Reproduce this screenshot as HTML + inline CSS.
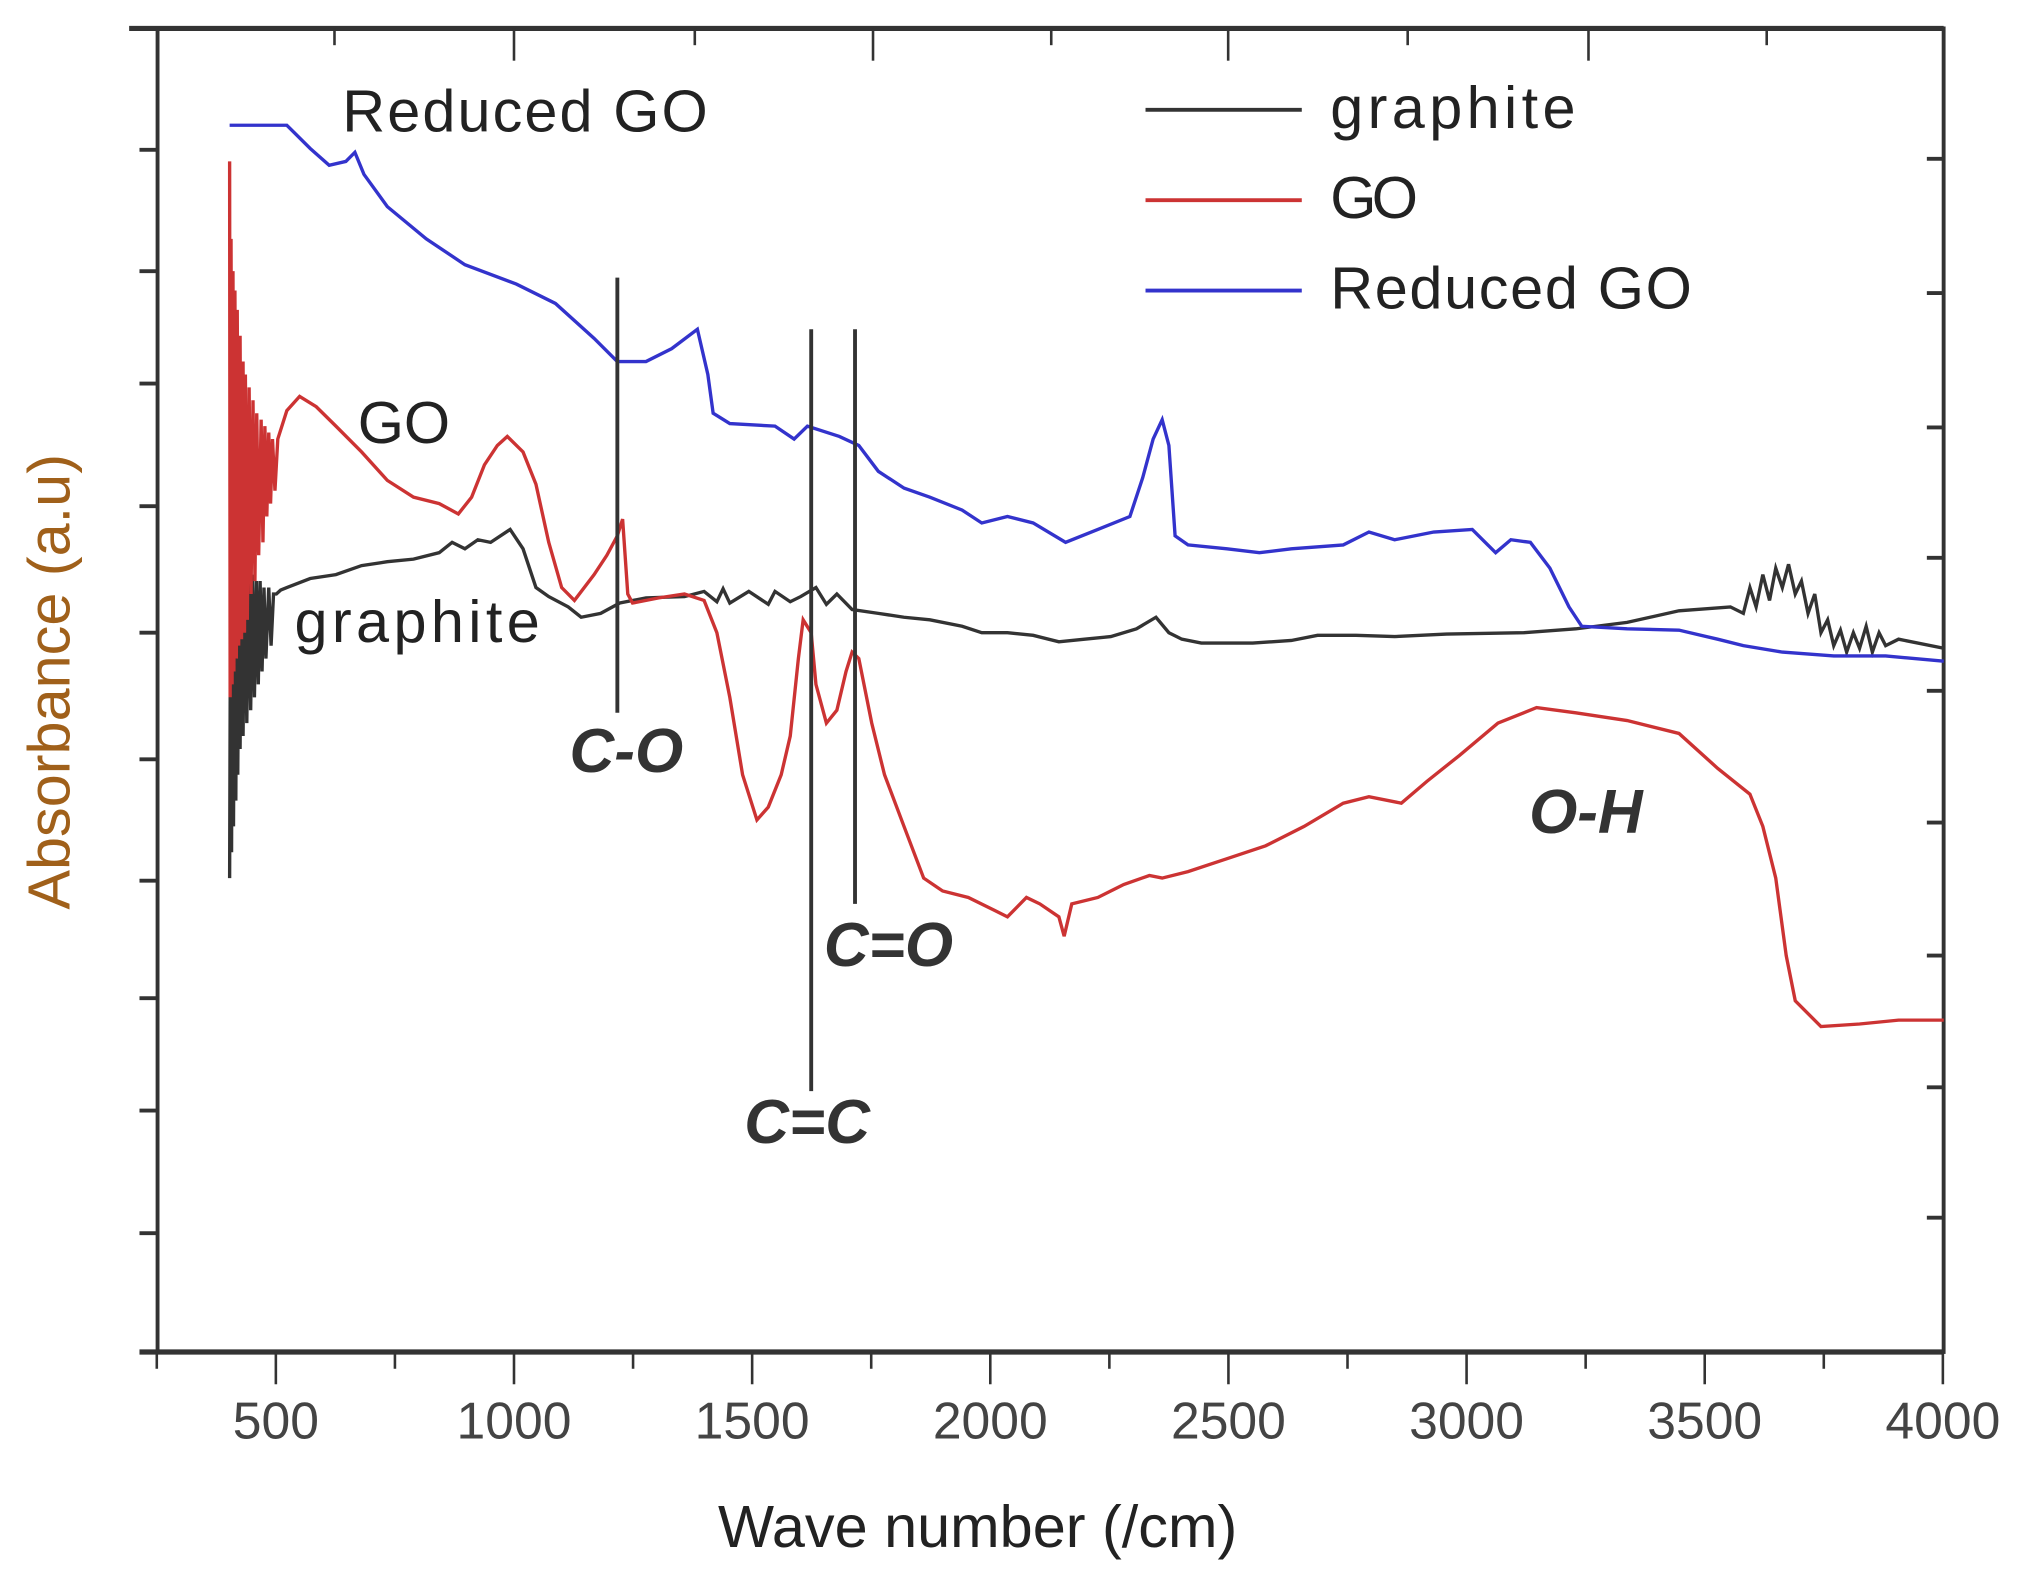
<!DOCTYPE html>
<html><head><meta charset="utf-8"><style>
html,body{margin:0;padding:0;background:#fff;}
svg{display:block;}
</style></head><body>
<svg id="chart" width="2025" height="1587" viewBox="0 0 1568 1229" preserveAspectRatio="none" xmlns="http://www.w3.org/2000/svg" font-family="'Liberation Sans', sans-serif">
<rect width="1568" height="1229" fill="#fff"/>
<g id="axes"></g>
<g id="series"></g>
<g id="annot"></g>
</svg>
<script>
const xTickValues = [500,1000,1500,2000,2500,3000,3500,4000];
const xTickLabels = ["500","1000","1500","2000","2500","3000","3500","4000"];
const xMinorTicks = [250,750,1250,1750,2250,2750,3250,3750];

const graphiteWave = [403,405,407,409,411,414,416,418,420,423,425,428,431,435,439,443,447,451,455,459,463,467,471,475,479,485,490,495,501,510,523,572,626,680,734,789,843,870,897,924,951,992,1019,1046,1073,1114,1141,1182,1222,1277,1358,1399,1426,1439,1453,1493,1534,1548,1580,1602,1634,1656,1678,1710,1765,1819,1873,1941,1982,2036,2090,2144,2198,2253,2307,2348,2375,2402,2443,2551,2632,2687,2768,2849,2958,3120,3229,3337,3446,3554,3581,3595,3608,3622,3636,3649,3663,3676,3690,3703,3717,3731,3744,3758,3771,3785,3798,3812,3825,3839,3852,3866,3880,3907,4002];
const graphiteAbs = [367,627,387,617,407,627,427,617,447,612,467,607,477,607,487,602,497,602,507,597,517,597,527,592,537,592,547,587,587,590,592,599,602,609,612,614,619,627,622,629,627,637,622,592,585,577,569,572,580,584,585,589,581,591,580,589,579,589,581,585,592,579,587,575,572,569,567,562,557,557,555,550,552,554,560,569,557,552,549,549,551,555,555,554,556,557,560,565,574,577,572,592,577,602,582,607,592,610,587,597,572,587,557,567,547,559,542,557,545,562,542,557,547,552,545];

const goWave = [403,404,406,408,410,412,414,417,419,422,425,428,431,434,436,440,444,448,452,456,460,464,469,473,477,481,485,489,493,498,504,523,550,585,626,680,734,789,843,883,911,938,965,986,1019,1046,1073,1100,1127,1168,1195,1217,1228,1239,1249,1304,1358,1399,1426,1453,1480,1510,1534,1561,1580,1597,1607,1624,1634,1656,1678,1697,1710,1724,1751,1778,1819,1860,1900,1954,2009,2036,2076,2104,2144,2155,2171,2226,2280,2334,2361,2415,2497,2578,2659,2741,2795,2863,2917,2985,3066,3147,3229,3337,3446,3527,3595,3622,3649,3671,3690,3744,3825,3907,4002];
const goAbs = [922,507,862,517,837,527,822,537,807,547,787,552,767,557,757,567,747,587,737,597,727,617,722,627,717,647,712,657,707,667,707,729,740,732,717,697,675,662,657,649,662,687,702,709,697,672,627,592,582,602,617,632,645,587,580,584,587,582,557,507,447,412,422,447,477,537,567,557,517,487,497,527,542,537,487,447,407,367,357,352,342,337,352,347,337,322,347,352,362,369,367,372,382,392,407,425,430,425,442,462,487,499,495,489,479,452,432,407,367,307,272,252,254,257,257];

const rgoWave = [403,523,572,612,647,666,685,734,816,897,1005,1087,1168,1217,1277,1331,1385,1407,1418,1453,1548,1588,1616,1683,1724,1765,1819,1873,1941,1982,2036,2090,2158,2226,2293,2320,2342,2361,2375,2388,2415,2497,2565,2632,2741,2795,2849,2931,3012,3039,3061,3093,3134,3175,3215,3242,3337,3446,3527,3581,3663,3771,3880,4002];
const rgoAbs = [950,950,932,919,922,929,912,887,862,842,827,812,785,767,767,777,792,757,727,719,717,707,717,709,702,682,669,662,652,642,647,642,627,637,647,677,707,722,702,632,625,622,619,622,625,635,629,635,637,627,619,629,627,607,577,562,560,559,552,547,542,539,539,535];

const peakWaves = [1217,1624,1716];
const peakLabels = ["C-O","C=C","C=O"];

const NS = "http://www.w3.org/2000/svg";
function xs(v){ return 398 + (v-1000)*0.3688; }
function ys(a){ return 1047 - a; }
function mk(tag, attrs, parent, text){
  const e = document.createElementNS(NS, tag);
  for (const k in attrs) e.setAttribute(k, attrs[k]);
  if (text !== undefined) e.textContent = text;
  parent.appendChild(e);
  return e;
}
const axes = document.getElementById('axes');
const series = document.getElementById('series');
const annot = document.getElementById('annot');

let fr = mk('rect',{x:122,y:22,width:1383,height:1025,fill:'none',stroke:'#333','stroke-width':3},axes);


let bl = mk('line',{x1:108,y1:1047,x2:1505,y2:1047,stroke:'#333','stroke-width':4},axes);


let tl = mk('line',{x1:100,y1:22,x2:1505,y2:22,stroke:'#333','stroke-width':4},axes);



xTickValues.forEach((v,i)=>{
  const t = mk('line',{x1:xs(v),y1:1047,x2:xs(v),y2:1072,stroke:'#333','stroke-width':2},axes);
  
  
  const lb = mk('text',{x:xs(v),y:1114,'text-anchor':'middle','font-size':40,fill:'#444'},axes,xTickLabels[i]);
  
  
});
xMinorTicks.forEach(v=>{
  const t = mk('line',{x1:xs(v),y1:1047,x2:xs(v),y2:1060,stroke:'#333','stroke-width':2},axes);
  
  
});
[259,398,538,676,814,951,1090,1230,1368].forEach((x,i)=>{
  const t = mk('line',{x1:x,y1:22,x2:x,y2:(i%2===1?47:35),stroke:'#333','stroke-width':2},axes);
  
  
});
[116,210,297,392,490,588,682,773,860,955].forEach(y=>{
  const t = mk('line',{x1:108,y1:y,x2:122,y2:y,stroke:'#333','stroke-width':3},axes);
  
  
});
[123,227,331,432,535,637,740,842,943].forEach(y=>{
  const t = mk('line',{x1:1492,y1:y,x2:1505,y2:y,stroke:'#333','stroke-width':3},axes);
  
  
});
let xt = mk('text',{x:757,y:1198,'text-anchor':'middle','font-size':46,fill:'#222'},axes,'Wave number (/cm)');


let yt = mk('text',{x:0,y:0,'text-anchor':'middle','font-size':46,fill:'#a0601a',transform:'translate(54,528) rotate(-90)'},axes,'Absorbance (a.u)');



function line(wave, abs, color, name){
  const d = wave.map((v,i)=>(i?'L':'M')+xs(v).toFixed(1)+','+ys(abs[i]).toFixed(1)).join(' ');
  const p = mk('path',{d:d,fill:'none',stroke:color,'stroke-width':2.6,'stroke-linejoin':'miter'},series);
  
  
}
line(graphiteWave, graphiteAbs, '#333333', 'graphite-line');
line(goWave, goAbs, '#cc3333', 'go-line');
line(rgoWave, rgoAbs, '#3333cc', 'reduced-go-line');

const peakTops = [215,255,255];
const peakBottoms = [552,845,700];
const peakLabelPos = [[485,598],[625,885],[688,748]];
peakWaves.forEach((v,i)=>{
  const l = mk('line',{x1:xs(v),y1:peakTops[i],x2:xs(v),y2:peakBottoms[i],stroke:'#333','stroke-width':3},annot);
  
  
  const t = mk('text',{x:peakLabelPos[i][0],y:peakLabelPos[i][1],'text-anchor':'middle','font-size':48,'font-weight':'bold','font-style':'italic',fill:'#333'},annot,peakLabels[i]);
  
  
});
let oh = mk('text',{x:1228,y:645,'text-anchor':'middle','font-size':48,'font-weight':'bold','font-style':'italic',fill:'#333'},annot,'O-H');



let s1 = mk('text',{x:265,y:102,'font-size':46,fill:'#222',textLength:283},annot,'Reduced GO');


let s2 = mk('text',{x:277,y:343,'font-size':46,fill:'#222'},annot,'GO');


let s3 = mk('text',{x:228,y:497,'font-size':46,fill:'#222',textLength:190},annot,'graphite');



const legNames = ['graphite','GO','Reduced GO'];
const legColors = ['#333333','#cc3333','#3333cc'];
const legY = [85,155,225];
const legLen = [190,68,280];
const lg = mk('g',{},annot);


legNames.forEach((n,i)=>{
  const l = mk('line',{x1:887,y1:legY[i],x2:1008,y2:legY[i],stroke:legColors[i],'stroke-width':3},lg);
  
  
  const t = mk('text',{x:1030,y:legY[i]+14,'font-size':46,fill:'#222',textLength:legLen[i]},lg,n);
  
  
});
</script>
</body></html>
